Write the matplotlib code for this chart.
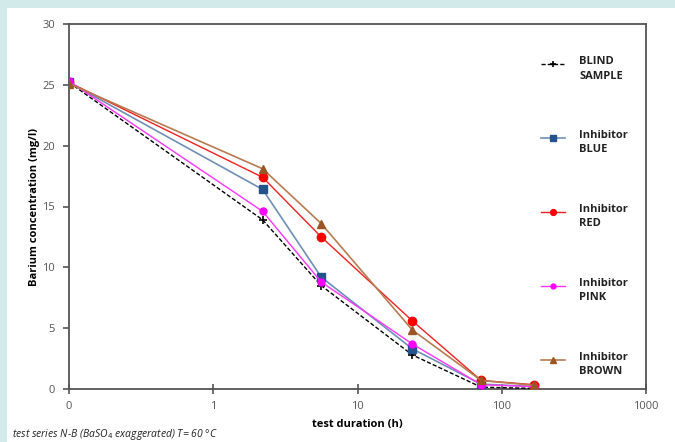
import numpy as np
import matplotlib.pyplot as plt
from matplotlib.patches import Rectangle
from matplotlib.lines import Line2D
from matplotlib.legend_handler import HandlerLine2D
from matplotlib.ticker import FixedLocator, FixedFormatter, NullLocator

# test duration in hours (first point is t=0, drawn at 0.1 on the log axis)
hours = [0.1, 2.2, 5.6, 24, 72, 168]

blind = [25.2, 13.9, 8.5, 2.8, 0.15, 0.05]
blue = [25.2, 16.4, 9.2, 3.3, 0.4, 0.2]
red = [25.2, 17.4, 12.5, 5.6, 0.7, 0.35]
pink = [25.3, 14.6, 8.8, 3.7, 0.35, 0.2]
brown = [25.1, 18.1, 13.6, 4.85, 0.7, 0.3]

x_ticks = [0.1, 1, 10, 100, 1000]
x_tick_labels = ["0", "1", "10", "100", "1000"]
y_ticks = [0, 5, 10, 15, 20, 25, 30]


# legend handle sits on the first text line instead of the middle
class RaisedLine(HandlerLine2D):
    def create_artists(self, legend, orig_handle, xdescent, ydescent, width, height, fontsize, trans):
        arts = super().create_artists(legend, orig_handle, xdescent, ydescent, width, height, fontsize, trans)
        for a in arts:
            a.set_ydata(np.asarray(a.get_ydata()) + 0.45 * fontsize)
        return arts


plt.rcParams["font.family"] = ["Open Sans", "DejaVu Sans"]

fig = plt.figure(figsize=(6.75, 4.42), dpi=100)
fig.patch.set_facecolor("#d3eaea")
fig.add_artist(Rectangle((7 / 675, 0), 1, 1 - 8 / 442, transform=fig.transFigure,
                         facecolor="white", edgecolor="none", zorder=-10))

ax = fig.add_axes([69 / 675, 1 - 389 / 442, (646 - 69) / 675, (389 - 24) / 442])
ax.set_zorder(1)
ax.patch.set_alpha(0)
ax.set_xscale("log")
ax.set_xlim(0.1, 1000)
ax.set_ylim(0, 30)

ax.plot(hours, blind, color="black", ls=(0, (3, 1.5)), lw=1, marker="+", ms=6, mew=1.2,
        label="BLIND\nSAMPLE", zorder=3)
ax.plot(hours, blue, color="#6f8fb5", lw=1.2, marker="s", ms=6, mfc="#24528a", mec="#24528a",
        label="Inhibitor\nBLUE", zorder=3)
ax.plot(hours, red, color="#f02020", lw=1, marker="o", ms=6, mfc="#ff0000", mec="#ff0000",
        label="Inhibitor\nRED", zorder=3)
ax.plot(hours, pink, color="#ff33ff", lw=1, marker="o", ms=5, mfc="#ff00ff", mec="#ff00ff",
        label="Inhibitor\nPINK", zorder=3)
ax.plot(hours, brown, color="#b87a50", lw=1.2, marker="^", ms=6, mfc="#9c5524", mec="#9c5524",
        label="Inhibitor\nBROWN", zorder=3)

ax.xaxis.set_major_locator(FixedLocator(x_ticks))
ax.xaxis.set_major_formatter(FixedFormatter(x_tick_labels))
ax.xaxis.set_minor_locator(NullLocator())
ax.set_yticks(y_ticks)

for s in ax.spines.values():
    s.set_color("#555555")
    s.set_linewidth(1.3)
ax.tick_params(axis="both", labelsize=8, colors="#555555", labelcolor="#555555", width=1.2)
ax.tick_params(axis="x", direction="inout", length=7, pad=5)
ax.tick_params(axis="y", direction="out", length=4, pad=6)

ax.set_xlabel("test duration (h)", fontsize=8, fontweight="bold", labelpad=5)
ax.set_ylabel("Barium concentration (mg/l)", fontsize=8, fontweight="bold", labelpad=2)

leg = ax.legend(loc="upper left", bbox_to_anchor=(0.80, 0.94), frameon=False, fontsize=8,
                handlelength=2.2, handletextpad=1.3, labelspacing=4.35, markerscale=0.7,
                handler_map={Line2D: RaisedLine()})
for t in leg.get_texts():
    t.set_fontweight("bold")
    t.set_color("#222222")
    t.set_linespacing(1.45)

fig.text(12 / 675, 1 - 435 / 442, r"test series N-B (BaSO$_4$ exaggerated) T= 60 °C",
         fontsize=7.5, style="italic", color="#222222", va="center")

fig.savefig("out.png", dpi=100)
